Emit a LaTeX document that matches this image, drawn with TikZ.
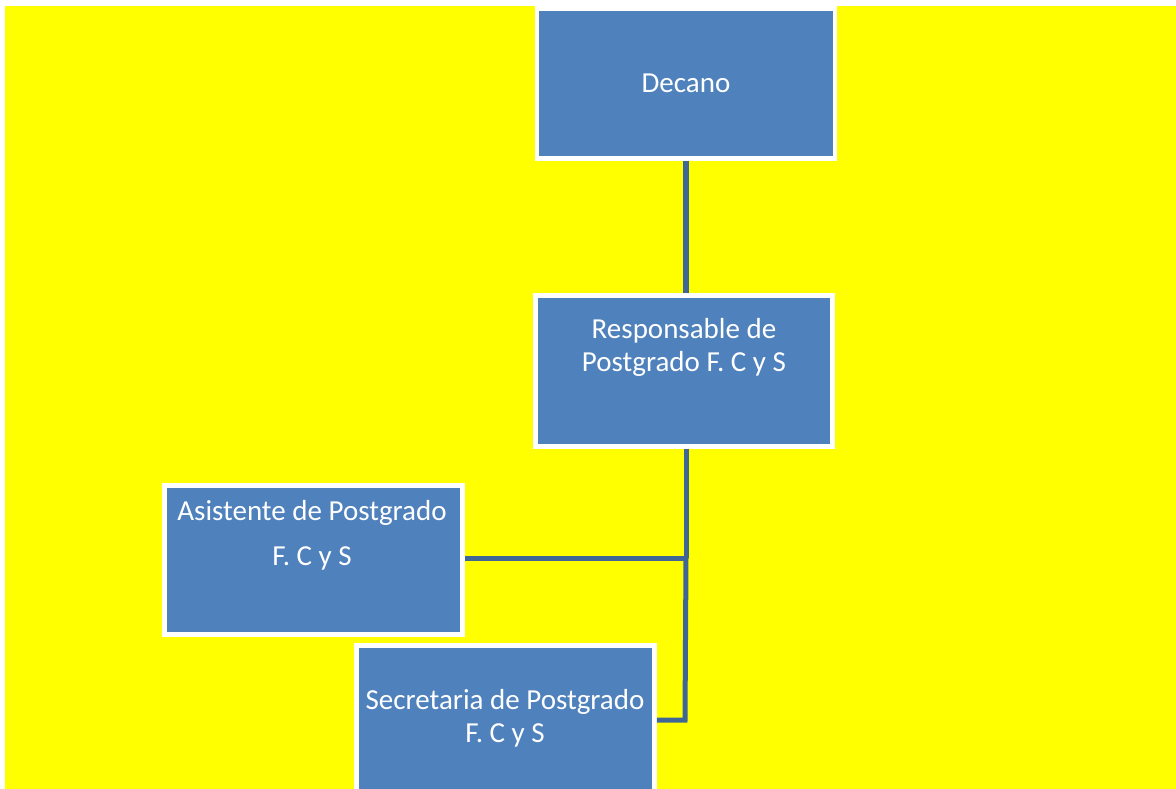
\documentclass[tikz,border=0pt]{standalone}
\usepackage{fontspec}
\setmainfont{Carlito}
\definecolor{boxblue}{HTML}{4F81BD}
\definecolor{linkblue}{HTML}{3F6697}
\definecolor{bgyellow}{HTML}{FFFF00}
\begin{document}
\begin{tikzpicture}[x=1pt,y=-1pt,
  orgbox/.style={draw=white,line width=4.5pt,fill=boxblue,minimum width=298pt,minimum height=150pt,inner sep=0pt},
  orgtext/.style={text=white,font=\fontsize{29}{33}\selectfont,align=center,inner sep=0pt},
  link/.style={draw=linkblue,line width=5pt}]
  % page and background
  \useasboundingbox (0,0) rectangle (1176,789);
  \fill[white] (0,0) rectangle (1176,789);
  \fill[bgyellow] (5,6) rectangle (1176,789);

  % boxes
  \node[orgbox] (dec) at (686,83.5) {};
  \node[orgbox,minimum width=297pt,minimum height=151pt] (resp) at (684,371) {};
  \node[orgbox,minimum height=149pt] (asis) at (313.5,560) {};

  % connectors
  \coordinate (trunkA) at (686,558);
  \coordinate (trunkB) at (685,720);
  \draw[link,line width=6pt] (dec.south -| trunkA) -- (resp.north -| trunkA);
  \draw[link] (resp.south -| trunkA) -- (trunkA);
  \draw[link] (asis.east |- trunkA) -- (trunkA);

  \begin{scope}
    \clip (0,0) rectangle (1176,789);
    \node[orgbox] (sec) at (505.5,720.5) {};
  \end{scope}
  \draw[link] (trunkA) -- (trunkB) -- (sec.east |- trunkB);

  % labels
  \node[orgtext] (tdec) at (686,83) {Decano};
  \node[orgtext] (tresp) at (684,347.5) {Responsable de\\Postgrado F. C y S};
  \node[orgtext] (tasis1) at (312,513) {Asistente de Postgrado};
  \node[orgtext] (tasis2) at (312,558) {F. C y S};
  \node[orgtext] (tsec) at (505,718.5) {Secretaria de Postgrado\\F. C y S};
\end{tikzpicture}
\end{document}
